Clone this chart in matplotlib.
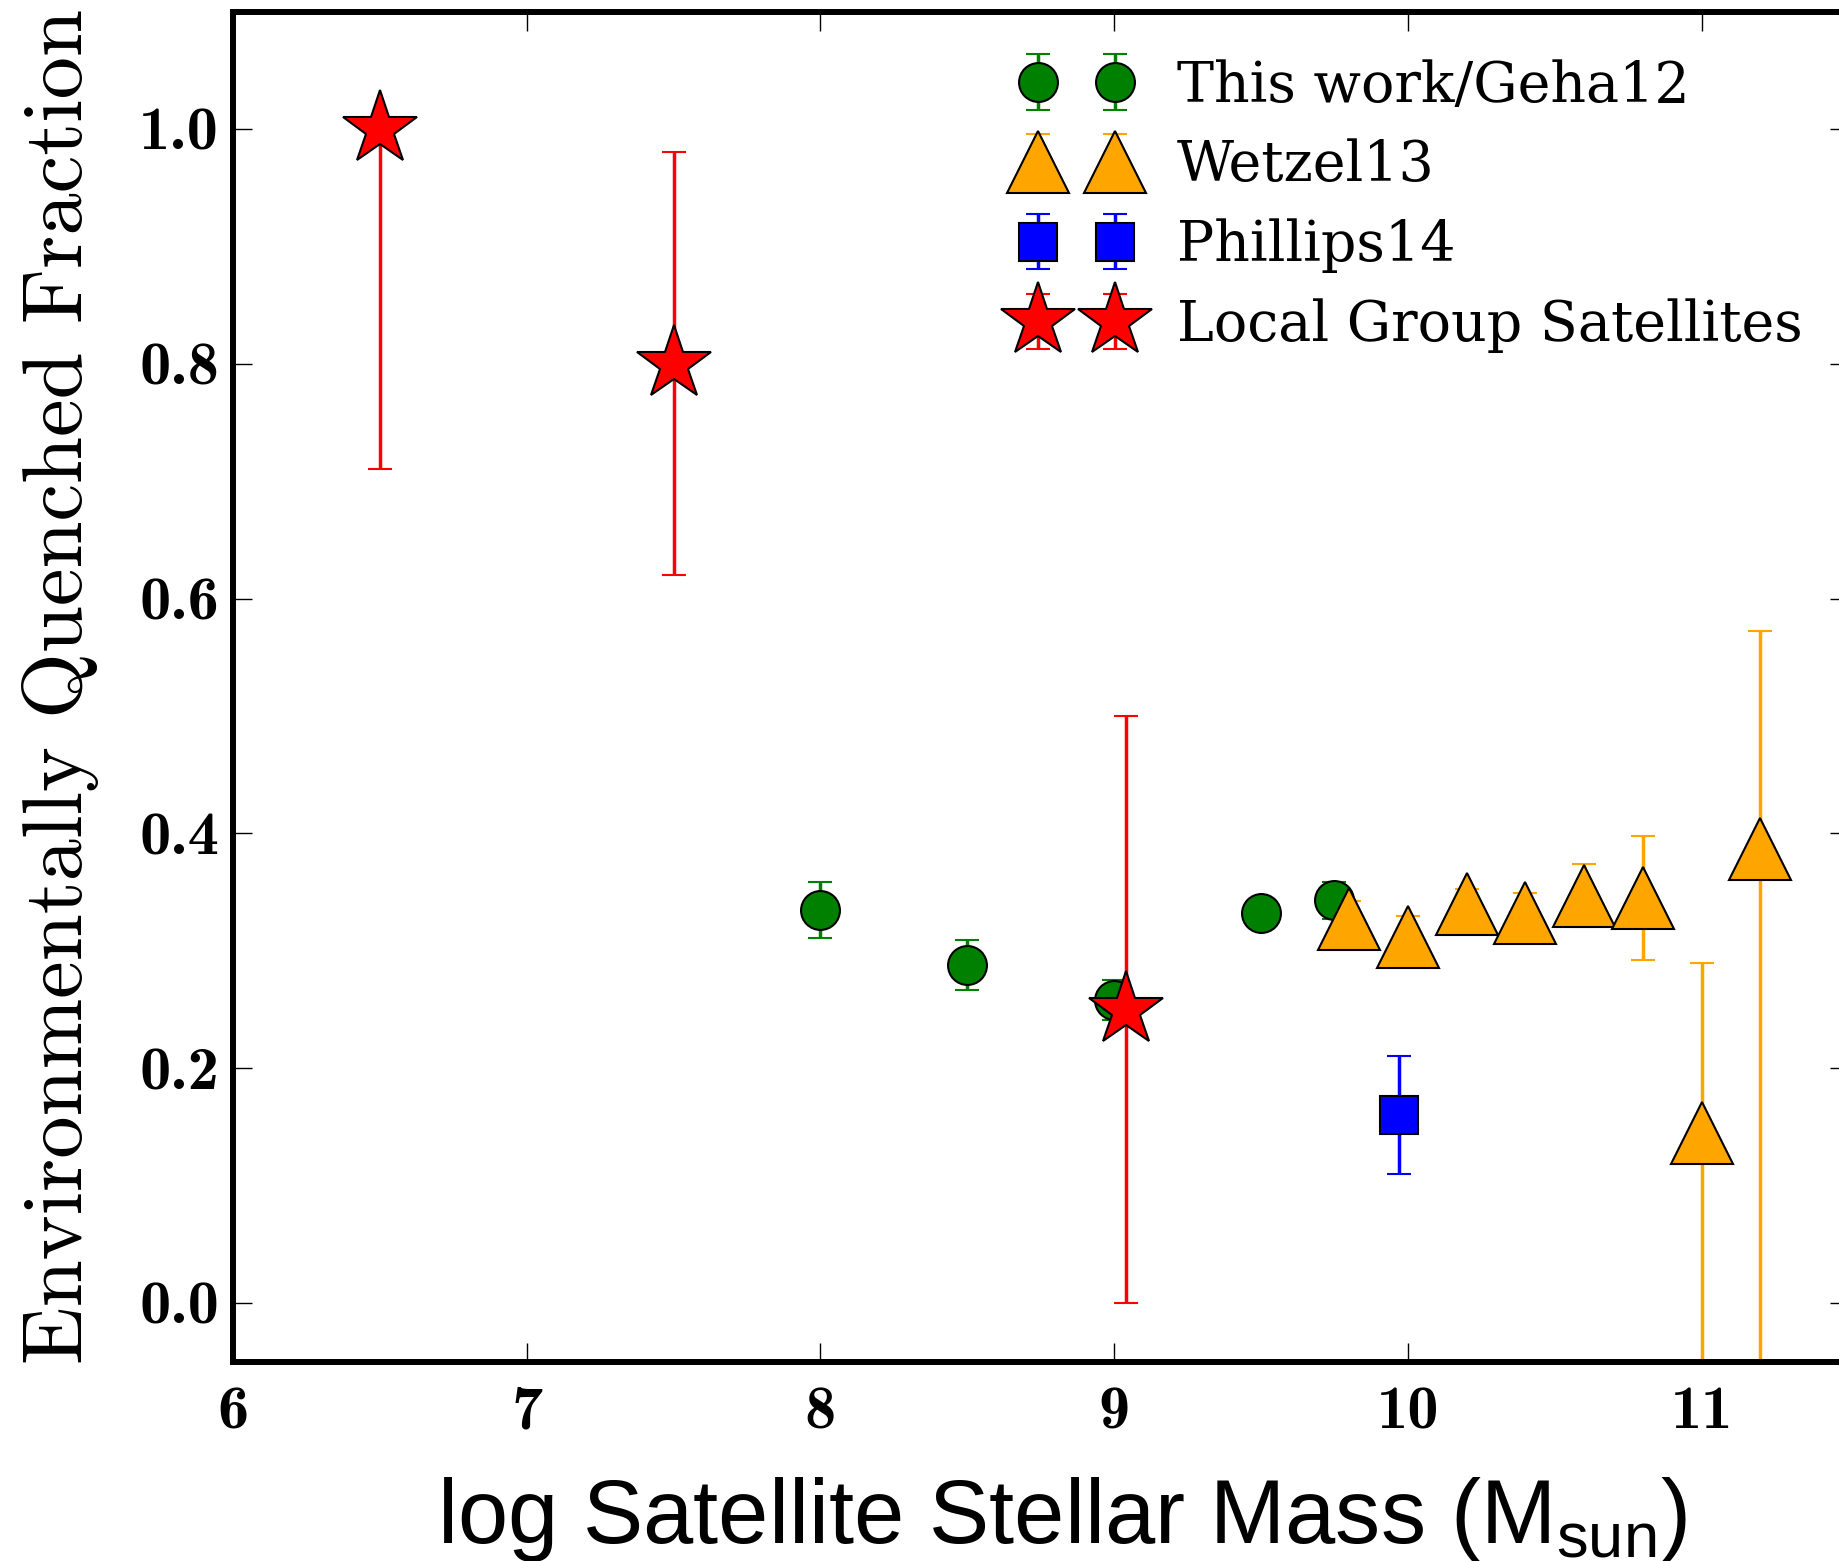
import matplotlib
matplotlib.use("Agg")
import matplotlib.pyplot as plt
from matplotlib.ticker import FixedLocator, FormatStrFormatter

# ---- data -------------------------------------------------------------
# This work / Geha12
geha_mass = [8.0, 8.5, 9.0, 9.5, 9.75]
geha_frac = [0.335, 0.288, 0.258, 0.332, 0.343]
geha_err = [0.024, 0.021, 0.017, 0.010, 0.016]

# Wetzel13
wetzel_mass = [9.8, 10.0, 10.2, 10.4, 10.6, 10.8, 11.0, 11.2]
wetzel_frac = [0.327, 0.312, 0.340, 0.332, 0.347, 0.345, 0.145, 0.387]
wetzel_err_lo = [0.015, 0.018, 0.013, 0.017, 0.027, 0.053, 0.30, 0.45]
wetzel_err_hi = [0.015, 0.018, 0.013, 0.017, 0.027, 0.053, 0.145, 0.185]

# Phillips14
phillips_mass = [9.97]
phillips_frac = [0.16]
phillips_err = [0.05]

# Local Group satellites
lg_mass = [6.5, 7.5, 9.04]
lg_frac = [1.0, 0.8, 0.25]
lg_err_lo = [0.29, 0.18, 0.25]
lg_err_hi = [0.0, 0.18, 0.25]

x_ticks = [6, 7, 8, 9, 10, 11]
y_ticks = [0.0, 0.2, 0.4, 0.6, 0.8, 1.0]

labels = ["This work/Geha12", "Wetzel13", "Phillips14", "Local Group Satellites"]

# ---- figure -----------------------------------------------------------
W, H = 1839, 1561
fig = plt.figure(figsize=(W / 100, H / 100), dpi=100)

x_lo, x_hi = 6.0, 11.5
y_lo, y_hi = -0.05, 1.1
ax = fig.add_axes([233 / W, 199.3 / H, (1848.5 - 233) / W, (1549.4 - 199.3) / H])

common = dict(linestyle="none", markeredgecolor="black", markeredgewidth=1.5,
              elinewidth=2.5, capthick=2.5, capsize=8.4)

h_geha = ax.errorbar(geha_mass, geha_frac, yerr=geha_err, fmt="o", ms=28,
                     color="green", ecolor="green", markerfacecolor="green", **common)
h_wetzel = ax.errorbar(wetzel_mass, wetzel_frac, yerr=[wetzel_err_lo, wetzel_err_hi],
                       fmt="^", ms=44.6, color="orange", ecolor="orange",
                       markerfacecolor="orange", **common)
h_phil = ax.errorbar(phillips_mass, phillips_frac, yerr=phillips_err, fmt="s", ms=28,
                     color="blue", ecolor="blue", markerfacecolor="blue", **common)
h_lg = ax.errorbar(lg_mass, lg_frac, yerr=[lg_err_lo, lg_err_hi], fmt="*", ms=55.7,
                   color="red", ecolor="red", markerfacecolor="red", **common)

ax.set_xlim(x_lo, x_hi)
ax.set_ylim(y_lo, y_hi)
ax.xaxis.set_major_locator(FixedLocator(x_ticks))
ax.yaxis.set_major_locator(FixedLocator(y_ticks))
ax.yaxis.set_major_formatter(FormatStrFormatter("%.1f"))
ax.xaxis.set_major_formatter(FormatStrFormatter("%d"))

ax.tick_params(which="both", direction="in", top=True, right=True,
               length=13.7, width=1.0, labelsize=45, labelfontfamily="cmb10")
ax.tick_params(axis="y", pad=10)
ax.tick_params(axis="x", pad=17.5)
for s in ax.spines.values():
    s.set_linewidth(4.3)

ax.set_xlabel(r"log Satellite Stellar Mass (M$\mathregular{_{sun}}$)",
              fontfamily="Liberation Sans", fontsize=65)
ax.xaxis.set_label_coords(0.513, -0.084)
ax.set_ylabel("Environmentally Quenched Fraction", fontfamily="cmr10", fontsize=61)
ax.yaxis.set_label_coords(-0.083, 0.5)

leg = ax.legend([h_geha, h_wetzel, h_phil, h_lg], labels, numpoints=2,
                frameon=False, prop={"family": "DejaVu Serif", "size": 40},
                handlelength=2.0, handletextpad=0.81, labelspacing=0.45,
                borderpad=0, borderaxespad=0, loc="upper left",
                bbox_to_anchor=(1021 / W, 1 - 59 / H),
                bbox_transform=fig.transFigure)

fig.savefig("out.png", dpi=100)
